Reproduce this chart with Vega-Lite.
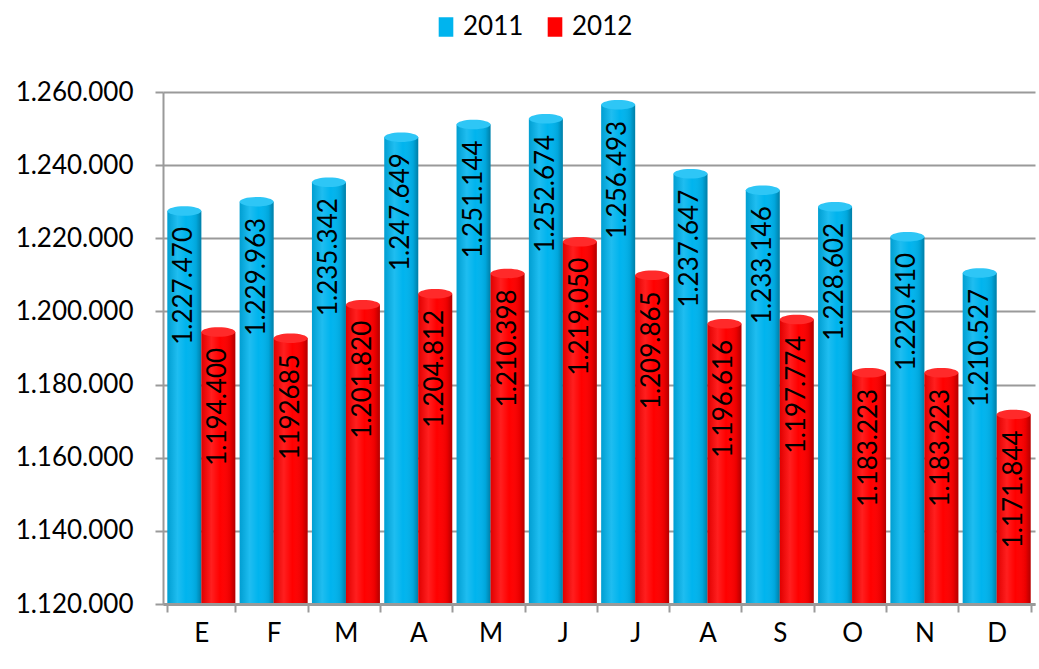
{
  "$schema": "https://vega.github.io/schema/vega-lite/v6.json",
  "width": 872,
  "height": 512,
  "autosize": {"type": "none"},
  "padding": {"left": 163, "top": 92, "right": 4, "bottom": 65},
  "background": "white",
  "config": {
    "locale": {"number": {"decimal": ",", "thousands": ".", "grouping": [3], "currency": ["", " €"]}},
    "font": "Lato",
    "view": {"stroke": null}
  },
  "data": {
    "values": [
      {"mes": "Enero", "year": "2011", "value": 1227470, "label": "1.227.470"},
      {"mes": "Febrero", "year": "2011", "value": 1229963, "label": "1.229.963"},
      {"mes": "Marzo", "year": "2011", "value": 1235342, "label": "1.235.342"},
      {"mes": "Abril", "year": "2011", "value": 1247649, "label": "1.247.649"},
      {"mes": "Mayo", "year": "2011", "value": 1251144, "label": "1.251.144"},
      {"mes": "Junio", "year": "2011", "value": 1252674, "label": "1.252.674"},
      {"mes": "Julio", "year": "2011", "value": 1256493, "label": "1.256.493"},
      {"mes": "Agosto", "year": "2011", "value": 1237647, "label": "1.237.647"},
      {"mes": "Septiembre", "year": "2011", "value": 1233146, "label": "1.233.146"},
      {"mes": "Octubre", "year": "2011", "value": 1228602, "label": "1.228.602"},
      {"mes": "Noviembre", "year": "2011", "value": 1220410, "label": "1.220.410"},
      {"mes": "Diciembre", "year": "2011", "value": 1210527, "label": "1.210.527"},
      {"mes": "Enero", "year": "2012", "value": 1194400, "label": "1.194.400"},
      {"mes": "Febrero", "year": "2012", "value": 1192685, "label": "1192685"},
      {"mes": "Marzo", "year": "2012", "value": 1201820, "label": "1.201.820"},
      {"mes": "Abril", "year": "2012", "value": 1204812, "label": "1.204.812"},
      {"mes": "Mayo", "year": "2012", "value": 1210398, "label": "1.210.398"},
      {"mes": "Junio", "year": "2012", "value": 1219050, "label": "1.219.050"},
      {"mes": "Julio", "year": "2012", "value": 1209865, "label": "1.209.865"},
      {"mes": "Agosto", "year": "2012", "value": 1196616, "label": "1.196.616"},
      {"mes": "Septiembre", "year": "2012", "value": 1197774, "label": "1.197.774"},
      {"mes": "Octubre", "year": "2012", "value": 1183223, "label": "1.183.223"},
      {"mes": "Noviembre", "year": "2012", "value": 1183223, "label": "1.183.223"},
      {"mes": "Diciembre", "year": "2012", "value": 1171844, "label": "1.171.844"}
    ]
  },
  "encoding": {
    "x": {
      "field": "mes", "type": "nominal", "sort": null, "title": null,
      "scale": {"paddingInner": 0.06, "paddingOuter": 0.06},
      "axis": {
        "labelAngle": 0, "labelExpr": "substring(datum.label, 0, 1)",
        "labelFont": "Lato", "labelFontSize": 26, "labelColor": "black",
        "labelPadding": 8, "tickBand": "extent", "tickSize": 8,
        "tickColor": "#9a9a9a", "tickWidth": 2,
        "domainColor": "#9a9a9a", "domainWidth": 3, "grid": false, "zindex": 1
      }
    },
    "xOffset": {"field": "year", "type": "nominal", "sort": ["2011", "2012"]},
    "y": {
      "field": "value", "type": "quantitative", "title": null,
      "scale": {"domain": [1120000, 1260000], "zero": false, "nice": false},
      "axis": {
        "values": [1120000, 1140000, 1160000, 1180000, 1200000, 1220000, 1240000, 1260000],
        "format": ",d", "labelFont": "Lato", "labelFontSize": 26, "labelColor": "black",
        "labelPadding": 22, "tickSize": 8, "tickColor": "#9a9a9a", "tickWidth": 2,
        "domainColor": "#9a9a9a", "domainWidth": 2,
        "grid": true, "gridColor": "#9a9a9a", "gridWidth": 2
      }
    }
  },
  "layer": [
    {
      "mark": {"type": "bar"},
      "encoding": {
        "y2": {"datum": 1120000},
        "color": {
          "field": "year", "type": "nominal", "title": null,
          "scale": {"domain": ["2011", "2012"], "range": ["#00B4EE", "#FF0000"]},
          "legend": {
            "orient": "none", "legendX": 270, "legendY": -78, "direction": "horizontal",
            "symbolType": "M-0.75,-1L0.75,-1L0.75,1L-0.75,1Z", "symbolSize": 380, "symbolStrokeWidth": 0,
            "labelFont": "Lato", "labelFontSize": 26, "labelColor": "black",
            "columnPadding": 18, "labelOffset": 4
          }
        }
      }
    },
    {
      "mark": {
        "type": "bar",
        "fill": {
          "gradient": "linear", "x1": 0, "x2": 1, "y1": 0, "y2": 0,
          "stops": [
            {"offset": 0, "color": "rgba(0,0,0,0.12)"},
            {"offset": 0.3, "color": "rgba(255,255,255,0.12)"},
            {"offset": 0.55, "color": "rgba(255,255,255,0)"},
            {"offset": 0.85, "color": "rgba(0,0,0,0.08)"},
            {"offset": 1, "color": "rgba(0,0,0,0.3)"}
          ]
        }
      },
      "encoding": {"y2": {"datum": 1120000}}
    },
    {
      "mark": {
        "type": "point", "filled": true, "opacity": 1,
        "shape": "M-1,0A1,0.28,0,1,0,1,0A1,0.28,0,1,0,-1,0Z",
        "size": 1150
      },
      "encoding": {
        "fill": {
          "field": "year", "type": "nominal", "legend": null,
          "scale": {"domain": ["2011", "2012"], "range": ["#2EC6F6", "#FF2A2A"]}
        }
      }
    },
    {
      "mark": {
        "type": "text", "angle": -90, "align": "right", "baseline": "middle",
        "dx": -16, "font": "Lato", "fontSize": 26, "color": "black"
      },
      "encoding": {"text": {"field": "label", "type": "nominal"}}
    }
  ]
}
